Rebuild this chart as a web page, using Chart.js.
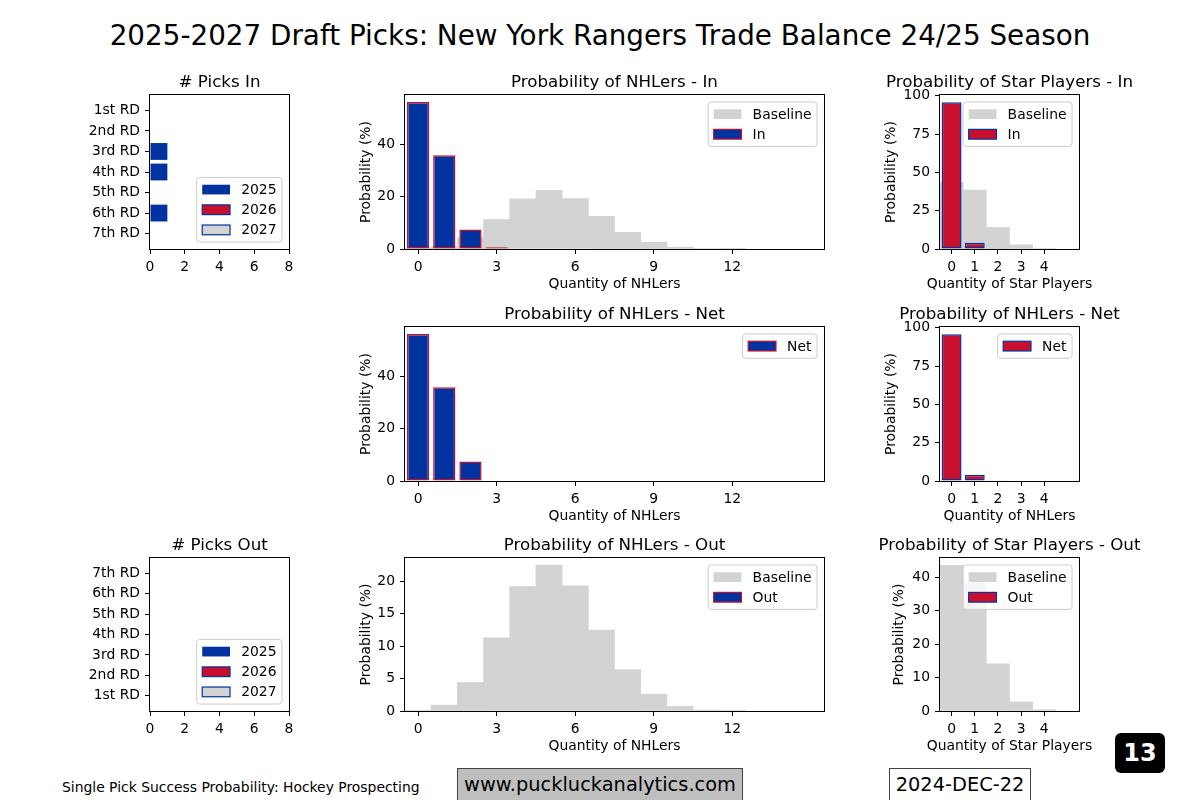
<!DOCTYPE html>
<html>
<head>
<meta charset="utf-8">
<script src="https://cdn.jsdelivr.net/npm/chart.js@4.4.1/dist/chart.umd.min.js"></script>
<style>
body { margin: 0; background: #fff; font-family: "DejaVu Sans", sans-serif; }
#page { position: relative; width: 1200px; height: 800px; overflow: hidden; background: #fff; }
#page canvas { position: absolute; }
.txt { position: absolute; white-space: nowrap; color: #000; }
#suptitle { left: 0; width: 1200px; top: 19px; text-align: center; font-size: 27.8px; line-height: 34px; }
#source { left: 62px; top: 779px; font-size: 13.9px; line-height: 16px; }
#site { left: 457px; top: 768px; width: 284px; height: 36px; background: #bfbfbf; border: 1px solid #444; text-align: center; font-size: 19.4px; line-height: 32px; }
#date { left: 889px; top: 768px; width: 140px; height: 36px; background: #fff; border: 1px solid #444; text-align: center; font-size: 19.4px; line-height: 32px; }
#badge { left: 1115px; top: 733px; width: 50px; height: 40px; background: #000; border-radius: 6px; color: #fff; text-align: center; font-size: 24px; font-weight: bold; line-height: 40px; }
</style>
</head>
<body>
<div id="page">
  <div class="txt" id="suptitle">2025-2027 Draft Picks: New York Rangers Trade Balance 24/25 Season</div>
  <div class="txt" id="source">Single Pick Success Probability: Hockey Prospecting</div>
  <div class="txt" id="site">www.puckluckanalytics.com</div>
  <div class="txt" id="date">2024-DEC-22</div>
  <div class="txt" id="badge">13</div>
</div>
<script>
// values
var nhlQty = [0, 1, 2, 3, 4, 5, 6, 7, 8, 9, 10, 11, 12];
var nhlBaseline = [0.1, 0.9, 4.4, 11.3, 19.2, 22.5, 19.3, 12.5, 6.4, 2.6, 0.7, 0.15, 0.03];
var nhlIn = [56.3, 35.9, 7.5, 0.7, 0, 0, 0, 0, 0, 0, 0, 0, 0];
var nhlNet = [56.3, 35.9, 7.5, 0, 0, 0, 0, 0, 0, 0, 0, 0, 0];
var nhlOut = [0, 0, 0, 0, 0, 0, 0, 0, 0, 0, 0, 0, 0];

var starQty = [0, 1, 2, 3, 4];
var starBaseline = [43.6, 38.4, 14.1, 2.7, 0.4];
var starIn = [95.7, 4.1, 0.1, 0, 0];
var starNet = [95.7, 4.1, 0.2, 0, 0];
var starOut = [0, 0, 0, 0, 0];

var rounds = ['1st RD', '2nd RD', '3rd RD', '4th RD', '5th RD', '6th RD', '7th RD'];
var picksIn2025 = [0, 0, 1, 1, 0, 1, 0];
var picksIn2026 = [0, 0, 0, 0, 0, 0, 0];
var picksIn2027 = [0, 0, 0, 0, 0, 0, 0];
var picksOut2025 = [0, 0, 0, 0, 0, 0, 0];
var picksOut2026 = [0, 0, 0, 0, 0, 0, 0];
var picksOut2027 = [0, 0, 0, 0, 0, 0, 0];

var nhlTicks = [0, 3, 6, 9, 12];
var starTicks = [0, 1, 2, 3, 4];
var pickTicks = [0, 2, 4, 6, 8];
var roundTicks = [0, 1, 2, 3, 4, 5, 6];
var nhlInTicks = [0, 20, 40];
var nhlOutTicks = [0, 5, 10, 15, 20];
var starInTicks = [0, 25, 50, 75, 100];
var starOutTicks = [0, 10, 20, 30, 40];

var NAVY = '#0033A0';
var RED = '#C8102E';
var GRAY = '#D3D3D3';
var FS = 13.9;
var FONT = '"DejaVu Sans", sans-serif';

Chart.defaults.font.family = FONT;
Chart.defaults.font.size = FS;
Chart.defaults.color = '#000';
Chart.defaults.animation = false;

function pts(xs, ys) {
  return xs.map(function(x, i) { return {x: x, y: ys[i]}; });
}
function roundPts(vals) {
  return vals.map(function(v, i) { return {x: v, y: i}; });
}

// black box round the axes, like matplotlib spines
var spines = {
  id: 'spines',
  afterDatasetsDraw: function(chart) {
    var a = chart.chartArea, ctx = chart.ctx;
    ctx.save();
    ctx.strokeStyle = '#000';
    ctx.lineWidth = 1;
    ctx.strokeRect(Math.round(a.left) - 0.5, Math.round(a.top) - 0.5, Math.round(a.right - a.left) + 1, Math.round(a.bottom - a.top) + 1);
    ctx.restore();
  }
};

// axes title and x label centred on the axes, never squeezed
function panelText(title, xTitle) {
  return {
    id: 'panelText',
    afterDraw: function(chart) {
      var a = chart.chartArea, ctx = chart.ctx;
      var cx = (a.left + a.right) / 2;
      ctx.save();
      ctx.fillStyle = '#000';
      ctx.textAlign = 'center';
      ctx.font = '16.7px ' + FONT;
      ctx.textBaseline = 'alphabetic';
      ctx.fillText(title, cx, a.top - 8);
      if (xTitle) {
        ctx.font = FS + 'px ' + FONT;
        ctx.textBaseline = 'middle';
        ctx.fillText(xTitle, cx, a.bottom + 35);
      }
      ctx.restore();
    }
  };
}

// legend drawn inside the axes
function boxLegend(loc) {
  return {
    id: 'boxLegend',
    afterDraw: function(chart) {
      var ctx = chart.ctx, a = chart.chartArea;
      var items = chart.data.datasets;
      ctx.save();
      ctx.font = FS + 'px ' + FONT;
      var tw = 0;
      items.forEach(function(d) { tw = Math.max(tw, ctx.measureText(d.label).width); });
      var pad = 0.4 * FS, hl = 2 * FS, hh = 0.7 * FS, gap = 0.8 * FS, rowH = 13.2, sp = 0.5 * FS;
      var w = 2 * pad + hl + gap + tw;
      var h = 2 * pad + items.length * rowH + (items.length - 1) * sp;
      var x = a.right - 0.5 * FS - w;
      var y = loc == 'upper right' ? a.top + 0.5 * FS : a.bottom - 0.5 * FS - h;
      var r = 3;
      ctx.beginPath();
      ctx.moveTo(x + r, y);
      ctx.arcTo(x + w, y, x + w, y + h, r);
      ctx.arcTo(x + w, y + h, x, y + h, r);
      ctx.arcTo(x, y + h, x, y, r);
      ctx.arcTo(x, y, x + w, y, r);
      ctx.closePath();
      ctx.fillStyle = 'rgba(255,255,255,0.8)';
      ctx.fill();
      ctx.strokeStyle = '#cccccc';
      ctx.lineWidth = 1;
      ctx.stroke();
      items.forEach(function(d, i) {
        var cy = y + pad + rowH / 2 + i * (rowH + sp);
        var hx = x + pad;
        ctx.fillStyle = d.backgroundColor;
        ctx.fillRect(hx, cy - hh / 2, hl, hh);
        if (d.borderWidth) {
          ctx.strokeStyle = d.borderColor;
          ctx.lineWidth = 1.2;
          ctx.strokeRect(hx, cy - hh / 2, hl, hh);
        }
        ctx.fillStyle = '#000';
        ctx.textBaseline = 'middle';
        ctx.textAlign = 'left';
        ctx.fillText(d.label, hx + hl + gap, cy + 1);
      });
      ctx.restore();
    }
  };
}

function fixedTicks(list) {
  return function(scale) {
    scale.ticks = list.map(function(v) { return {value: v}; });
  };
}

function axis(o) {
  return {
    type: 'linear',
    min: o.min,
    max: o.max,
    reverse: !!o.reverse,
    stacked: !!o.stacked,
    offset: false,
    grid: {offset: false, drawOnChartArea: false, drawTicks: true, tickLength: 5, color: '#000', lineWidth: 1},
    border: {display: false},
    ticks: {padding: 5, autoSkip: false, maxRotation: 0, minRotation: 0, callback: o.callback},
    afterBuildTicks: fixedTicks(o.ticks),
    title: {display: !!o.title, text: o.title || '', padding: 0, font: {size: FS, lineHeight: '16px'}}
  };
}

function addPanel(box, yw, title, xTitle, legendLoc, config) {
  var th = 28, xh = 43, side = 30;
  var c = document.createElement('canvas');
  var w = box.r - box.l + 2 * yw + 2 * side, h = box.b - box.t + th + xh;
  c.width = w;
  c.height = h;
  c.style.left = (box.l - yw - side) + 'px';
  c.style.top = (box.t - th) + 'px';
  c.style.width = w + 'px';
  c.style.height = h + 'px';
  document.getElementById('page').appendChild(c);
  config.options.responsive = false;
  config.options.devicePixelRatio = 1;
  config.options.layout = {padding: {left: side, right: yw + side, top: th, bottom: 0}};
  config.options.plugins = {legend: {display: false}, tooltip: {enabled: false}, title: {display: false}};
  config.options.scales.x.afterFit = function(s) { s.height = xh; };
  config.options.scales.y.afterFit = function(s) { s.width = yw; };
  config.plugins = [spines, panelText(title, xTitle), boxLegend(legendLoc)];
  return new Chart(c, config);
}

function histPanel(box, yw, title, qty, base, vals, label, fill, edge, xMax, xTicks, yMax, yTicks, xTitle, bw) {
  var datasets = [];
  if (base) {
    datasets.push({label: 'Baseline', data: pts(qty, base), backgroundColor: GRAY, borderWidth: 0,
      barPercentage: 1, categoryPercentage: 1, grouped: false, order: 2});
  }
  datasets.push({label: label, data: pts(qty, vals), backgroundColor: fill, borderColor: edge, borderWidth: 1.5,
    borderSkipped: false, barPercentage: bw, categoryPercentage: 1, grouped: false, order: 1});
  addPanel(box, yw, title, xTitle, 'upper right', {
    type: 'bar',
    data: {datasets: datasets},
    options: {
      scales: {
        x: axis({min: -0.5, max: xMax, ticks: xTicks}),
        y: axis({min: 0, max: yMax, ticks: yTicks, title: 'Probability (%)'})
      }
    }
  });
}

function picksPanel(box, title, d25, d26, d27, reverse) {
  addPanel(box, 70, title, null, 'lower right', {
    type: 'bar',
    data: {datasets: [
      {label: '2025', data: roundPts(d25), backgroundColor: NAVY, borderColor: NAVY, borderWidth: 0, barPercentage: 0.82, categoryPercentage: 1},
      {label: '2026', data: roundPts(d26), backgroundColor: RED, borderColor: NAVY, borderWidth: 1, borderSkipped: false, barPercentage: 0.82, categoryPercentage: 1},
      {label: '2027', data: roundPts(d27), backgroundColor: GRAY, borderColor: NAVY, borderWidth: 1, borderSkipped: false, barPercentage: 0.82, categoryPercentage: 1}
    ]},
    options: {
      indexAxis: 'y',
      scales: {
        x: axis({min: 0, max: 8, ticks: pickTicks, stacked: true}),
        y: axis({min: -0.75, max: 6.75, ticks: roundTicks, stacked: true, reverse: reverse,
          callback: function(v) { return rounds[v]; }})
      }
    }
  });
}

var colPicks = {l: 150, r: 289};
var colNhl = {l: 405, r: 824};
var colStar = {l: 940, r: 1079};
var row1 = {t: 95, b: 249}, row2 = {t: 327, b: 481}, row3 = {t: 558, b: 711};
function at(col, row) { return {l: col.l, r: col.r, t: row.t, b: row.b}; }

picksPanel(at(colPicks, row1), '# Picks In', picksIn2025, picksIn2026, picksIn2027, true);
histPanel(at(colNhl, row1), 47, 'Probability of NHLers - In', nhlQty, nhlBaseline, nhlIn, 'In', NAVY, RED,
  15.5, nhlTicks, 59, nhlInTicks, 'Quantity of NHLers', 0.85);
histPanel(at(colStar, row1), 57, 'Probability of Star Players - In', starQty, starBaseline, starIn, 'In', RED, NAVY,
  5.5, starTicks, 100.5, starInTicks, 'Quantity of Star Players', 0.86);

histPanel(at(colNhl, row2), 47, 'Probability of NHLers - Net', nhlQty, null, nhlNet, 'Net', NAVY, RED,
  15.5, nhlTicks, 59, nhlInTicks, 'Quantity of NHLers', 0.85);
histPanel(at(colStar, row2), 57, 'Probability of NHLers - Net', starQty, null, starNet, 'Net', RED, NAVY,
  5.5, starTicks, 100.5, starInTicks, 'Quantity of NHLers', 0.86);

picksPanel(at(colPicks, row3), '# Picks Out', picksOut2025, picksOut2026, picksOut2027, false);
histPanel(at(colNhl, row3), 47, 'Probability of NHLers - Out', nhlQty, nhlBaseline, nhlOut, 'Out', NAVY, RED,
  15.5, nhlTicks, 23.6, nhlOutTicks, 'Quantity of NHLers', 0.85);
histPanel(at(colStar, row3), 49, 'Probability of Star Players - Out', starQty, starBaseline, starOut, 'Out', RED, NAVY,
  5.5, starTicks, 45.8, starOutTicks, 'Quantity of Star Players', 0.86);
</script>
</body>
</html>
